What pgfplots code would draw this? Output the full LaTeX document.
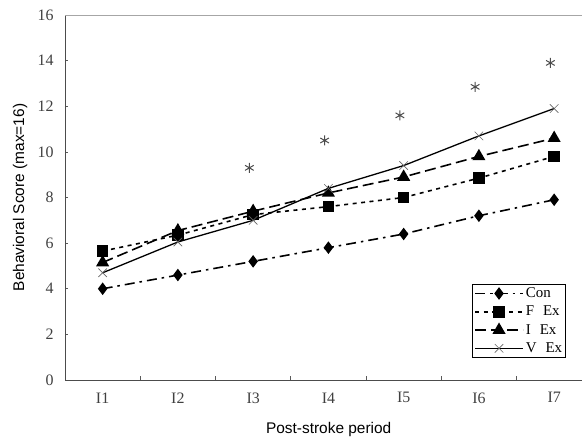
\documentclass[border=0pt]{standalone}
\usepackage{pgfplots}
\pgfplotsset{compat=1.18}
\usepackage{fontspec}
\setmainfont{Liberation Serif}
\newfontfamily\arial{Liberation Sans}

\begin{document}
\begin{tikzpicture}
\begin{axis}[
    name=ax,
    scale only axis,
    width=517bp, height=365bp,
    xmin=0.5, xmax=7.37,
    ymin=0, ymax=16,
    axis line style={draw=none},
    xtick={1,...,7},
    xticklabels={I1,I2,I3,I4,I5,I6,I7},
    minor xtick={1.5,2.5,...,6.5},
    ytick={0,2,...,16},
    tick pos=left,
    tick align=inside,
    major x tick style={draw=none},
    minor tick length=4bp,
    major tick length=3bp,
    tick style={gray!70!black, line width=0.6bp},
    /pgf/number format/assume math mode=true,
    tick label style={font=\fontsize{16}{18}\selectfont, text=black!75},
    xticklabel style={yshift=-9bp},
    yticklabel style={xshift=-8bp},
    xlabel={Post-stroke period},
    ylabel={Behavioral Score (max=16)},
    label style={font=\arial\fontsize{15.5}{18}\selectfont},
    xlabel style={at={(axis description cs:0.51,-0.137)}, anchor=center},
    ylabel style={at={(axis description cs:-0.087,0.5)}, anchor=center},
    legend style={at={(0.969,0.263)}, anchor=north east, draw=black, line width=0.6bp,
        font=\fontsize{15}{17}\selectfont, inner sep=1.5bp, row sep=3bp,
        cells={anchor=west}},
    legend image code/.code={\draw[mark repeat=2,mark phase=2,#1] plot coordinates {(0bp,0bp) (24bp,0bp) (48bp,0bp)};},
]
% axis frame: left and bottom dark, top light
\draw[gray!60!black, line width=0.8bp] (rel axis cs:0,0) -- (rel axis cs:1,0);
\draw[gray!60!black, line width=0.8bp] (rel axis cs:0,0) -- (rel axis cs:0,1);
\draw[gray!70, line width=0.8bp] (rel axis cs:0,1) -- (rel axis cs:1,1);

\addplot[black, line width=1.6bp, dash pattern=on 10bp off 5bp on 2.5bp off 5bp,
    mark=diamond*, mark size=5bp, mark options={solid}]
    coordinates {(1,4.0) (2,4.6) (3,5.2) (4,5.8) (5,6.4) (6,7.2) (7,7.9)};
\addlegendentry{Con}
\addplot[black, line width=1.6bp, dash pattern=on 4bp off 4.5bp,
    mark=square*, mark size=5bp, mark options={solid}]
    coordinates {(1,5.65) (2,6.35) (3,7.25) (4,7.6) (5,8.0) (6,8.85) (7,9.8)};
\addlegendentry{F\hspace{0.6em}Ex}
\addplot[black, line width=1.6bp, dash pattern=on 11bp off 5bp,
    mark=triangle*, mark size=6bp, mark options={solid}]
    coordinates {(1,5.15) (2,6.55) (3,7.4) (4,8.2) (5,8.9) (6,9.8) (7,10.6)};
\addlegendentry{I\hspace{0.6em}Ex}
\addplot[black, line width=1.3bp,
    mark=x, mark size=6bp, mark options={solid, gray!80!black, line width=0.6bp}]
    coordinates {(1,4.7) (2,6.05) (3,7.0) (4,8.4) (5,9.4) (6,10.7) (7,11.9)};
\addlegendentry{V\hspace{0.6em}Ex}

\addplot[only marks, mark=asterisk, mark size=5bp, gray!60!black, line width=1bp, forget plot]
    coordinates {(2.95,9.3) (3.95,10.5) (4.95,11.6) (5.95,12.85) (6.95,13.9)};
\end{axis}
\pgfresetboundingbox
\path[use as bounding box] ([xshift=-65bp,yshift=-58bp]ax.south west) rectangle ([yshift=15bp]ax.north east);
\end{tikzpicture}
\end{document}
